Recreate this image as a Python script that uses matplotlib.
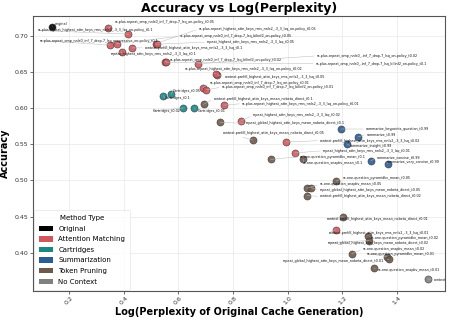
import matplotlib
matplotlib.use("Agg")
import matplotlib.pyplot as plt
from matplotlib.patches import Patch

# ---------------- data ----------------
method_types = ["Original", "Attention Matching", "Cartridges", "Summarization", "Token Pruning", "No Context"]
type_colors = ["#000000", "#d0585c", "#1a8785", "#2b5c94", "#6e5a4a", "#808080"]

orig_names = ["original"]
orig_x = [0.138]
orig_y = [0.712]

am_names = [
    "ss-plus-repeat_omp_nnls0_inf_7_drop-7_lsq_on-policy_t0.05",
    "ss-plus-repeat_highest_attn_keys_rms_nnls2_-3_3_lsq_on-policy_t0.1",
    "ss-plus-repeat_omp_nnls0_inf_7_drop-7_lsq_progressive_on-policy_t0.1",
    "ss-plus-repeat_omp_nnls0_inf_7_drop-7_lsq_bilinf2_on-policy_t0.05",
    "context-prefill_highest_attn_keys_rms_nnls2_-3_3_lsq_t0.1",
    "ss-plus-repeat_highest_attn_keys_rms_nnls2_-3_3_lsq_on-policy_t0.05",
    "repeat_highest_attn_keys_rms_nnls2_-3_3_lsq_t0.05",
    "repeat_highest_attn_keys_rms_nnls2_-3_3_lsq_t0.1",
    "ss-plus-repeat_omp_nnls0_inf_7_drop-7_lsq_bilinf2_on-policy_t0.02",
    "ss-plus-repeat_omp_nnls0_-inf_7_drop-7_lsq_bilinf2_on-policy_t0.1",
    "ss-plus-repeat_omp_nnls0_-inf_7_drop-7_lsq_on-policy_t0.02",
    "context-prefill_highest_attn_keys_rms_nnls2_-3_3_lsq_t0.05",
    "ss-plus-repeat_highest_attn_keys_rms_nnls2_-3_3_lsq_on-policy_t0.02",
    "ss-plus-repeat_omp_nnls0_inf_7_drop-7_lsq_on-policy_t0.01",
    "ss-plus-repeat_omp_nnls0_inf_7_drop-7_lsq_bilinf2_on-policy_t0.01",
    "ss-plus-repeat_highest_attn_keys_rms_nnls2_-3_3_lsq_on-policy_t0.01",
    "repeat_highest_attn_keys_rms_nnls2_-3_3_lsq_t0.02",
    "context-prefill_highest_attn_keys_rms_nnls2_-3_3_lsq_t0.02",
    "repeat_highest_attn_keys_rms_nnls2_-3_3_lsq_t0.01",
    "context-prefill_highest_attn_keys_rms_nnls2_-3_3_lsq_t0.01",
]
am_x = [0.344, 0.417, 0.349, 0.374, 0.431, 0.517, 0.520, 0.394, 0.551, 0.553,
        0.671, 0.742, 0.738, 0.691, 0.702, 0.766, 0.828, 0.993, 1.025, 1.175]
am_y = [0.710, 0.702, 0.687, 0.689, 0.683, 0.689, 0.688, 0.677, 0.664, 0.663,
        0.661, 0.646, 0.647, 0.628, 0.625, 0.604, 0.582, 0.553, 0.538, 0.432]

cart_names = ["Cartridges_t0.1", "Cartridges_t0.05", "Cartridges_t0.02", "Cartridges_t0.01"]
cart_x = [0.545, 0.574, 0.618, 0.658]
cart_y = [0.617, 0.619, 0.600, 0.600]

summ_names = ["summarize_keypoints_question_t0.99", "summarize_t0.99", "summarize_insight_t0.99",
              "summarize_concise_t0.99", "summarize_very_concise_t0.99"]
summ_x = [1.195, 1.257, 1.218, 1.304, 1.367]
summ_y = [0.571, 0.560, 0.550, 0.527, 0.523]

tp_names = [
    "context-prefill_highest_attn_keys_mean_nobeta_direct_t0.1",
    "repeat_global_highest_attn_keys_mean_nobeta_direct_t0.1",
    "context-prefill_highest_attn_keys_mean_nobeta_direct_t0.05",
    "ss-one-question_pyramidkv_mean_t0.1",
    "ss-one-question_snapkv_mean_t0.1",
    "ss-one-question_pyramidkv_mean_t0.05",
    "ss-one-question_snapkv_mean_t0.05",
    "repeat_global_highest_attn_keys_mean_nobeta_direct_t0.05",
    "context-prefill_highest_attn_keys_mean_nobeta_direct_t0.02",
    "context-prefill_highest_attn_keys_mean_nobeta_direct_t0.01",
    "ss-one-question_pyramidkv_mean_t0.02",
    "repeat_global_highest_attn_keys_mean_nobeta_direct_t0.02",
    "ss-one-question_snapkv_mean_t0.02",
    "ss-one-question_pyramidkv_mean_t0.01",
    "repeat_global_highest_attn_keys_mean_nobeta_direct_t0.01",
    "ss-one-question_snapkv_mean_t0.01",
]
tp_x = [0.692, 0.752, 0.872, 0.937, 1.057, 1.177, 1.069, 1.085, 1.071, 1.203,
        1.293, 1.298, 1.234, 1.364, 1.371, 1.315]
tp_y = [0.605, 0.580, 0.556, 0.529, 0.529, 0.499, 0.489, 0.490, 0.479, 0.450,
        0.424, 0.417, 0.399, 0.395, 0.391, 0.379]

nc_names = ["context"]
nc_x = [1.513]
nc_y = [0.364]

x_ticks = [0.2, 0.4, 0.6, 0.8, 1.0, 1.2, 1.4]
y_ticks = [0.40, 0.45, 0.50, 0.55, 0.60, 0.65, 0.70]

# ---------------- label layout (text anchor positions) ----------------
orig_lab = [(0.149, 0.716)]
am_lab = [(0.368, 0.719), (0.087, 0.707), (0.094, 0.693), (0.606, 0.699), (0.478, 0.683),
          (0.675, 0.709), (0.705, 0.691), (0.354, 0.675), (0.569, 0.666), (1.103, 0.661),
          (1.107, 0.672), (0.770, 0.643), (0.624, 0.654), (0.716, 0.635), (0.759, 0.629),
          (0.833, 0.606), (0.873, 0.590), (1.118, 0.555), (1.129, 0.541), (1.151, 0.428)]
cart_lab = [(0.551, 0.614), (0.580, 0.624), (0.507, 0.596), (0.672, 0.596)]
summ_lab = [(1.286, 0.571), (1.290, 0.564), (1.227, 0.548), (1.326, 0.532), (1.363, 0.525)]
tp_lab = [(0.730, 0.613), (0.847, 0.579), (0.763, 0.566), (1.045, 0.533), (1.056, 0.524),
          (1.202, 0.503), (1.118, 0.495), (1.118, 0.487), (1.118, 0.478), (1.143, 0.447),
          (1.304, 0.421), (1.147, 0.414), (1.275, 0.405), (1.290, 0.399), (0.982, 0.389),
          (1.330, 0.376)]
nc_lab = [(1.535, 0.363)]

# ---------------- plot ----------------
fig = plt.figure(figsize=(4.49, 3.2), dpi=100)
ax = fig.add_axes([0.0735, 0.092, 0.9175, 0.858])

ax.grid(True, color="#e8e8e8", linewidth=0.5, zorder=0)
ax.set_axisbelow(True)

groups = [
    (orig_names, orig_x, orig_y, orig_lab, type_colors[0]),
    (am_names, am_x, am_y, am_lab, type_colors[1]),
    (cart_names, cart_x, cart_y, cart_lab, type_colors[2]),
    (summ_names, summ_x, summ_y, summ_lab, type_colors[3]),
    (tp_names, tp_x, tp_y, tp_lab, type_colors[4]),
    (nc_names, nc_x, nc_y, nc_lab, type_colors[5]),
]

for names, xs, ys, labs, col in groups:
    ax.scatter(xs, ys, s=26, color=col, edgecolor="#333333", linewidth=0.4, alpha=0.9, zorder=3)
    for n, x, y, (lx, ly) in zip(names, xs, ys, labs):
        ax.annotate(n, xy=(x, y), xytext=(lx, ly), fontsize=2.4, ha="left", va="center",
                    color="#111111", zorder=4, annotation_clip=False,
                    arrowprops=dict(arrowstyle="-", color="#bbbbbb", lw=0.35,
                                    shrinkA=0, shrinkB=0, relpos=(0, 0.5)))

ax.set_xlim(0.068, 1.575)
ax.set_ylim(0.348, 0.727)
ax.set_xticks(x_ticks)
ax.set_xticklabels([f"{v:.1f}" for v in x_ticks], rotation=45, fontsize=4.5)
ax.set_yticks(y_ticks)
ax.set_yticklabels([f"{v:.2f}" for v in y_ticks], fontsize=4.5)
ax.tick_params(length=2, width=0.5, pad=1.5, colors="#333333")
for sp in ax.spines.values():
    sp.set_color("#555555")
    sp.set_linewidth(0.8)

ax.set_title("Accuracy vs Log(Perplexity)", fontsize=9, fontweight="bold", pad=3)
ax.set_xlabel("Log(Perplexity of Original Cache Generation)", fontsize=7, fontweight="bold", labelpad=1)
ax.set_ylabel("Accuracy", fontsize=7, fontweight="bold", labelpad=3)

handles = [Patch(facecolor=c, edgecolor="none", label=m) for m, c in zip(method_types, type_colors)]
leg = ax.legend(handles=handles, title="Method Type", loc="lower left", fontsize=5,
                title_fontsize=5, frameon=True, borderaxespad=0.15, handlelength=2.0,
                handleheight=0.8, labelspacing=0.65, borderpad=0.7)
leg.get_frame().set_edgecolor("#dddddd")
leg.get_frame().set_linewidth(0.5)

fig.savefig("out.png", dpi=100)
